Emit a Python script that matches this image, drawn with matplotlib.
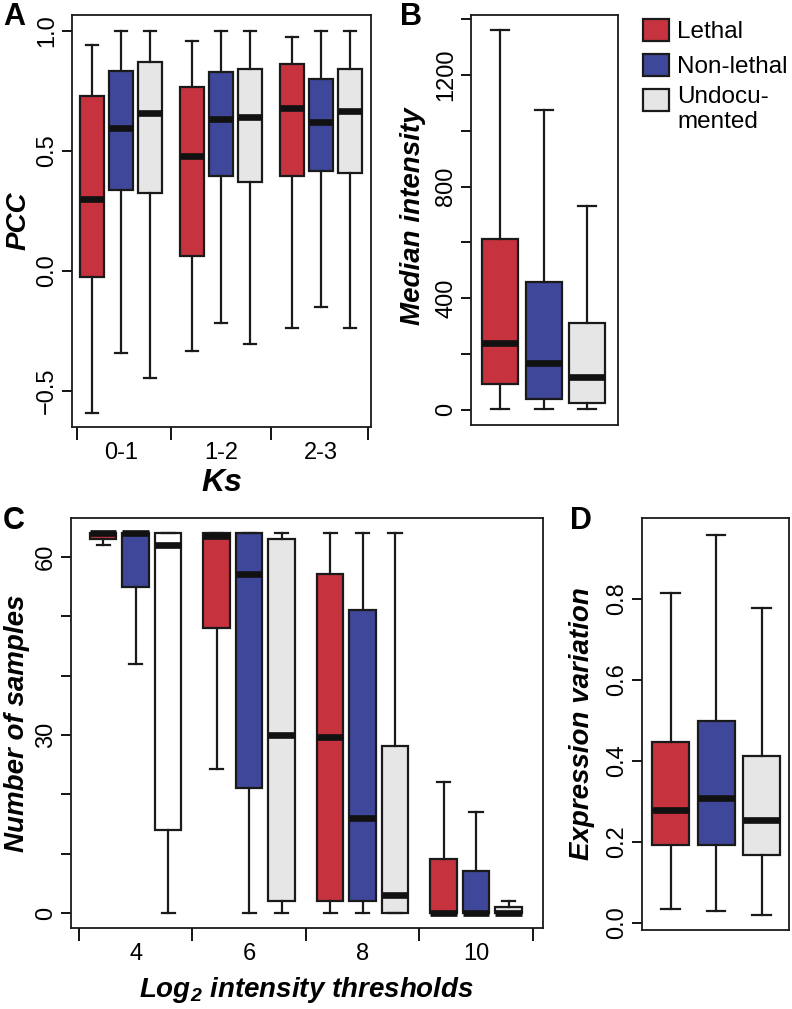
import matplotlib
matplotlib.use('Agg')
import matplotlib.pyplot as plt
from matplotlib.patches import Rectangle

plt.rcParams['font.family'] = ['Liberation Sans', 'DejaVu Sans']
plt.rcParams['mathtext.default'] = 'regular'

# colours for the three gene classes
red = '#C6323D'
blue = '#3E479A'
grey = '#E6E6E6'
classes = ['Lethal', 'Non-lethal', 'Undocu-\nmented']

# each box: (whisker low, q1, median, q3, whisker high)
# A - PCC by Ks bin
ks_bins = ['0-1', '1-2', '2-3']
pcc_lethal = [(-0.59, -0.025, 0.30, 0.73, 0.942), (-0.333, 0.062, 0.48, 0.767, 0.96), (-0.237, 0.396, 0.679, 0.862, 0.975)]
pcc_nonlethal = [(-0.34, 0.337, 0.596, 0.833, 1.0), (-0.217, 0.396, 0.633, 0.829, 1.0), (-0.15, 0.417, 0.621, 0.80, 1.0)]
pcc_undoc = [(-0.447, 0.325, 0.66, 0.87, 1.0), (-0.304, 0.371, 0.642, 0.842, 1.0), (-0.237, 0.408, 0.667, 0.842, 1.0)]

# B - median intensity
intensity_stats = [(4, 93, 240, 612, 1361), (4, 39, 168, 458, 1074), (4, 25, 118, 311, 730)]

# C - number of samples by log2 threshold
thresholds = ['4', '6', '8', '10']
samples_lethal = [(62, 63, 64, 64, 64), (24.2, 48, 63.5, 64, 64), (0, 2, 29.7, 57.2, 64), (0, 0, 0, 9.1, 22)]
samples_nonlethal = [(42, 55, 64, 64, 64), (0, 21, 57.1, 64, 64), (0, 2, 16, 51.1, 64), (0, 0, 0, 7.1, 17.1)]
samples_undoc = [(0, 14, 62, 64, 64), (0, 2, 30, 63, 64), (0, 0, 3.1, 28.1, 64), (0, 0, 0, 1, 2.1)]
undoc_fill_c = ['white', grey, grey, grey]

# D - expression variation
variation_stats = [(0.035, 0.194, 0.28, 0.448, 0.816), (0.029, 0.194, 0.309, 0.50, 0.959), (0.021, 0.168, 0.255, 0.412, 0.778)]

W, H = 792, 1009
fig = plt.figure(figsize=(W / 100, H / 100), dpi=100)
LW = 1.6


def add_ax(l, t, r, b):
    return fig.add_axes([l / W, 1 - b / H, (r - l) / W, (b - t) / H])


def to_dict(s):
    lo, q1, med, q3, hi = s
    return dict(whislo=lo, q1=q1, med=med, q3=q3, whishi=hi, fliers=[])


def boxes(ax, stats, pos, width, colors):
    for s, p, c in zip(stats, pos, colors):
        ax.bxp([to_dict(s)], positions=[p], widths=width, patch_artist=True,
               showfliers=False, manage_ticks=False,
               boxprops=dict(facecolor=c, edgecolor='#1a1a1a', linewidth=LW),
               medianprops=dict(color='#111111', linewidth=4.8, solid_capstyle='butt'),
               whiskerprops=dict(color='#1a1a1a', linewidth=LW),
               capprops=dict(color='#1a1a1a', linewidth=LW))


def style(ax):
    for sp in ax.spines.values():
        sp.set_linewidth(1.3)
        sp.set_color('#1a1a1a')
    ax.tick_params(axis='y', length=7, width=1.3, pad=3, labelsize=17, labelrotation=90)
    ax.tick_params(axis='x', length=9, width=1.3, labelsize=17)
    plt.setp(ax.get_yticklabels(), va='center')


lab = dict(fontsize=20, fontweight='bold', style='italic')

# ---- A
axA = add_ax(72, 15, 371, 427)
off, w = 0.29, 0.24
for i, (st, col) in enumerate(zip([pcc_lethal, pcc_nonlethal, pcc_undoc], [red, blue, grey])):
    boxes(axA, st, [g + (i - 1) * off for g in range(3)], w, [col] * 3)
axA.set_xlim(-0.49, 2.5)
axA.set_ylim(-0.65, 1.067)
axA.set_yticks([-0.5, 0, 0.5, 1.0], ['\u22120.5', '0.0', '0.5', '1.0'])
axA.set_xticks([-0.44, 0.5, 1.5, 2.47], [])
axA.set_xticks(range(3), ks_bins, minor=True)
style(axA)
axA.tick_params(axis='x', which='minor', length=0, pad=11, labelsize=17)
fig.text(19 / W, 1 - 221 / H, 'PCC', rotation=90, ha='center', va='center', **lab)
fig.text(222 / W, 1 - 483 / H, 'Ks', ha='center', va='center', fontsize=23, fontweight='bold', style='italic')

# ---- B
axB = add_ax(471, 15, 618, 425)
boxes(axB, intensity_stats, [0, 1, 2], 0.83, [red, blue, grey])
axB.set_xlim(-0.67, 2.71)
axB.set_ylim(-54, 1415)
axB.set_yticks(range(0, 1401, 200), [str(v) if v % 400 == 0 else '' for v in range(0, 1401, 200)])
axB.set_xticks([])
style(axB)
fig.text(413 / W, 1 - 216 / H, 'Median intensity', rotation=90, ha='center', va='center', **lab)

# legend
for k, (c, name) in enumerate(zip([red, blue, grey], classes)):
    top = [19, 54, 89][k]
    fig.patches.append(Rectangle((643 / W, 1 - (top + 22) / H), 26 / W, 22 / H,
                                 transform=fig.transFigure, facecolor=c,
                                 edgecolor='#1a1a1a', linewidth=LW))
fig.text(677 / W, 1 - 32 / H, classes[0], fontsize=17.5, va='center')
fig.text(677 / W, 1 - 67 / H, classes[1], fontsize=17.5, va='center')
fig.text(677 / W, 1 - 86 / H, classes[2], fontsize=17.5, va='top', linespacing=1.2)

# ---- C
axC = add_ax(71, 518, 543, 928)
off, w = 0.286, 0.233
boxes(axC, samples_lethal, [g - off for g in range(4)], w, [red] * 4)
boxes(axC, samples_nonlethal, list(range(4)), w, [blue] * 4)
boxes(axC, samples_undoc, [g + off for g in range(4)], w, undoc_fill_c)
axC.set_xlim(-0.57, 3.59)
axC.set_ylim(-2.53, 66.57)
axC.set_yticks(range(0, 61, 10), [str(v) if v % 30 == 0 else '' for v in range(0, 61, 10)])
axC.set_xticks([-0.5, 0.5, 1.5, 2.5, 3.5], [])
axC.set_xticks(range(4), thresholds, minor=True)
style(axC)
axC.tick_params(axis='x', which='minor', length=0, pad=11, labelsize=17)
fig.text(17 / W, 1 - 723 / H, 'Number of samples', rotation=90, ha='center', va='center', **lab)
fig.text(307 / W, 1 - 990 / H, 'Log$_2$ intensity thresholds', ha='center', va='center', **lab)

# ---- D
axD = add_ax(642, 518, 789, 930)
boxes(axD, variation_stats, [0, 1, 2], 0.81, [red, blue, grey])
axD.set_xlim(-0.63, 2.6)
axD.set_ylim(-0.017, 1.0)
axD.set_yticks([0, 0.2, 0.4, 0.6, 0.8], ['0.0', '0.2', '0.4', '0.6', '0.8'])
axD.set_xticks([])
style(axD)
fig.text(582 / W, 1 - 724 / H, 'Expression variation', rotation=90, ha='center', va='center', **lab)

# panel letters
for letter, x, y in [('A', 3, 2), ('B', 400, 2), ('C', 3, 506), ('D', 570, 506)]:
    fig.text(x / W, 1 - y / H, letter, fontsize=22, fontweight='bold', ha='left', va='top')

fig.savefig('out.png', dpi=100)
